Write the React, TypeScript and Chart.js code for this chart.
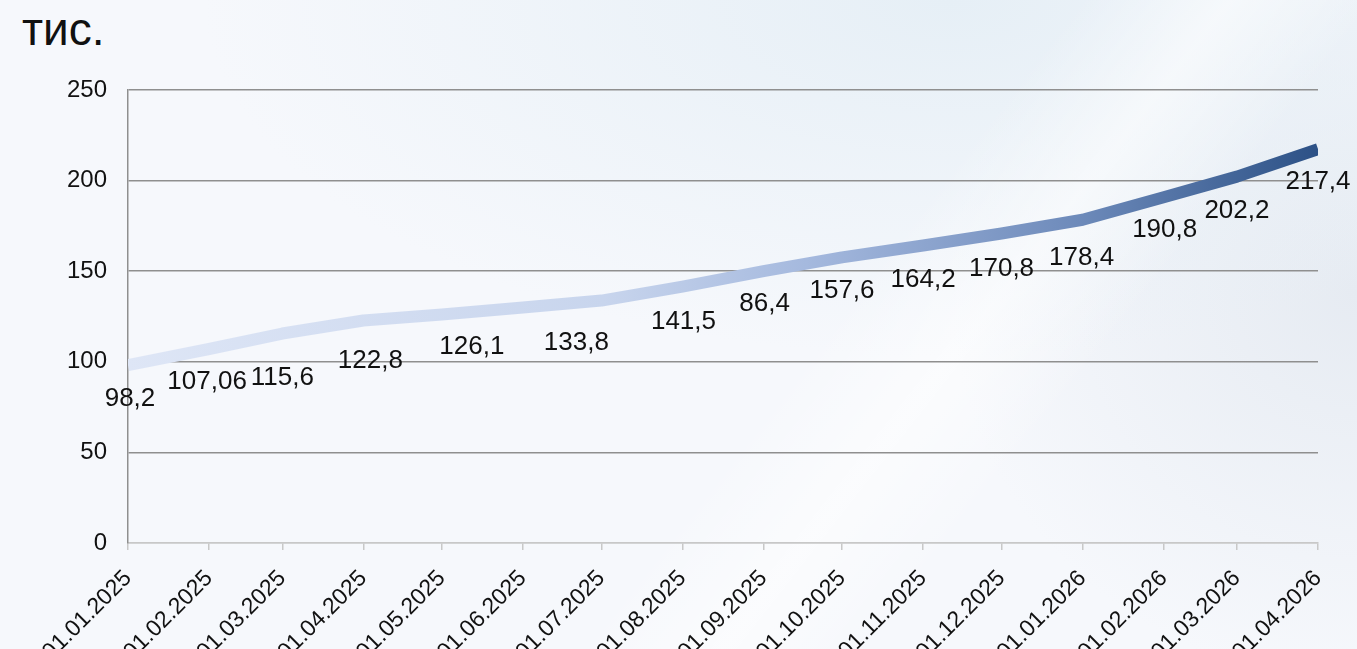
import React, { useEffect, useRef } from "react";
import { Chart, registerables } from "chart.js";

Chart.register(...registerables);

// ---- data ----
const unitTitle = "тис.";
const dates = [
  "01.01.2025", "01.02.2025", "01.03.2025", "01.04.2025", "01.05.2025", "01.06.2025",
  "01.07.2025", "01.08.2025", "01.09.2025", "01.10.2025", "01.11.2025", "01.12.2025",
  "01.01.2026", "01.02.2026", "01.03.2026", "01.04.2026",
];
const values = [
  98.2, 107.06, 115.6, 122.8, 126.1, 130.0, 133.8, 141.5, 150.0, 157.6, 164.2, 170.8,
  178.4, 190.8, 202.2, 217.4,
];
const valueLabels = [
  "98,2", "107,06", "115,6", "122,8", "126,1", "", "133,8", "141,5", "86,4", "157,6",
  "164,2", "170,8", "178,4", "190,8", "202,2", "217,4",
];
const yMin = 0;
const yMax = 250;
const yStep = 50;

// label nudges (style only): [dx, dy] from the point
const labelNudge: [number, number][] = [
  [2, 34], [-2, 33], [0, 44], [7, 40], [30, 32], [0, 34], [-25, 42], [1, 35], [1, 33],
  [0, 33], [0, 34], [0, 35], [-1, 38], [1, 33], [0, 34], [0, 33],
];

const FONT = '"Liberation Sans", Arial, Helvetica, sans-serif';

function dayOf(s: string): number {
  const [d, m, y] = s.split(".").map(Number);
  return (Date.UTC(y, m - 1, d) - Date.UTC(2025, 0, 1)) / 86400000;
}

const valueLabelPlugin = {
  id: "valueLabels",
  afterDatasetsDraw(chart: any) {
    const ctx = chart.ctx;
    const meta = chart.getDatasetMeta(0);
    ctx.save();
    ctx.font = `26px ${FONT}`;
    ctx.fillStyle = "#111111";
    ctx.textAlign = "center";
    ctx.textBaseline = "middle";
    meta.data.forEach((pt: any, i: number) => {
      const t = valueLabels[i];
      if (!t) return;
      const [dx, dy] = labelNudge[i] || [0, 34];
      ctx.fillText(t, pt.x + dx, pt.y + dy);
    });
    ctx.restore();
  },
};

export default function App() {
  const ref = useRef<HTMLCanvasElement | null>(null);

  useEffect(() => {
    if (!ref.current) return;
    const points = dates.map((d, i) => ({ x: dayOf(d), y: values[i] }));
    const chart = new Chart(ref.current, {
      type: "line",
      data: {
        datasets: [
          {
            data: points,
            borderWidth: 12,
            pointRadius: 0,
            pointHoverRadius: 0,
            tension: 0,
            borderCapStyle: "butt",
            borderJoinStyle: "round",
            fill: false,
            borderColor: (c: any) => {
              const area = c.chart.chartArea;
              if (!area) return "#a7badf";
              const g = c.chart.ctx.createLinearGradient(area.left, 0, area.right, 0);
              g.addColorStop(0, "#dee6f6");
              g.addColorStop(0.4, "#c8d5ed");
              g.addColorStop(0.57, "#a5b9de");
              g.addColorStop(0.8, "#6d8aba");
              g.addColorStop(1, "#2c5186");
              return g;
            },
          },
        ],
      },
      options: {
        animation: false,
        responsive: false,
        devicePixelRatio: 1,
        layout: { padding: { top: 90, right: 39, left: 0, bottom: 0 } },
        plugins: {
          legend: { display: false },
          tooltip: { enabled: false },
          title: { display: false },
        },
        scales: {
          x: {
            type: "linear",
            min: dayOf(dates[0]),
            max: dayOf(dates[dates.length - 1]),
            afterBuildTicks: (s: any) => {
              s.ticks = dates.map((d) => ({ value: dayOf(d) }));
            },
            afterFit: (s: any) => {
              s.height = 106;
              s.paddingLeft = 0;
              s.paddingRight = 0;
            },
            ticks: {
              autoSkip: false,
              minRotation: 45,
              maxRotation: 45,
              padding: 15,
              color: "#111111",
              font: { family: FONT, size: 23 },
              callback: (_v: any, i: number) => dates[i],
            },
            grid: {
              drawOnChartArea: false,
              drawTicks: true,
              tickLength: 7,
              color: "#c8c8c8",
              lineWidth: 1.5,
            },
            border: { color: "#c8c8c8", width: 1.5 },
          },
          y: {
            min: yMin,
            max: yMax,
            afterFit: (s: any) => {
              s.width = 128;
            },
            ticks: {
              stepSize: yStep,
              padding: 21,
              color: "#111111",
              font: { family: FONT, size: 24 },
            },
            grid: {
              drawTicks: false,
              color: (c: any) => (c.tick && c.tick.value === 0 ? "#c8c8c8" : "#8f8f8f"),
              lineWidth: 1.5,
            },
            border: { color: "#8f8f8f", width: 1.5 },
          },
        },
      },
      plugins: [valueLabelPlugin],
    } as any);
    return () => chart.destroy();
  }, []);

  return (
    <div
      style={{
        position: "fixed",
        left: 0,
        top: 0,
        width: 1357,
        height: 649,
        overflow: "hidden",
        background:
          "linear-gradient(128deg, rgba(255,255,255,0) 58%, rgba(255,255,255,0.55) 66%, rgba(255,255,255,0) 74%)," +
          "radial-gradient(ellipse 55% 55% at 70% 0%, #e6eff6 0%, rgba(230,239,246,0) 100%)," +
          "radial-gradient(ellipse 30% 60% at 100% 45%, #e6ebf2 0%, rgba(230,235,242,0) 100%)," +
          "#f6f8fc",
      }}
    >
      <div
        style={{
          position: "absolute",
          left: 22,
          top: 6,
          fontFamily: FONT,
          fontSize: 46,
          lineHeight: "46px",
          color: "#111111",
        }}
      >
        {unitTitle}
      </div>
      <canvas
        ref={ref}
        width={1357}
        height={649}
        style={{ position: "absolute", left: 0, top: 0, width: 1357, height: 649 }}
      />
    </div>
  );
}
